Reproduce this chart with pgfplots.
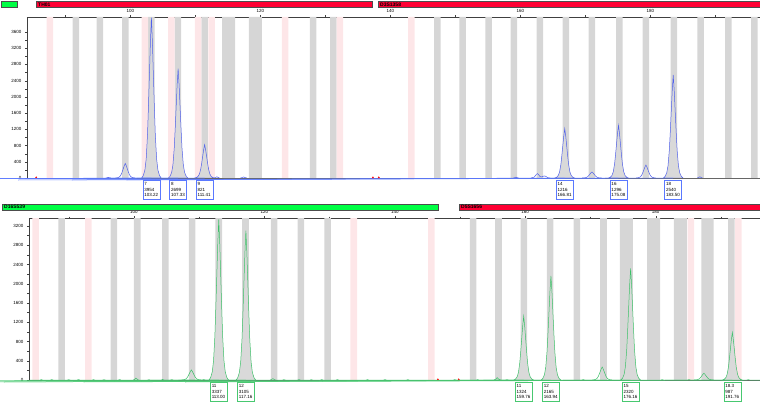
\documentclass[border=0pt]{standalone}
\usepackage{fontspec}
\setmainfont{Liberation Sans}
\usepackage{pgfplots}
\pgfplotsset{compat=1.18}
\definecolor{binGray}{HTML}{D6D6D6}
\definecolor{binPink}{HTML}{FDE6E8}
\definecolor{trBlue}{HTML}{5060EA}
\definecolor{trGreen}{HTML}{3CC068}
\definecolor{boxBlue}{HTML}{5A78FF}
\definecolor{boxGreen}{HTML}{48C870}
\definecolor{barRed}{HTML}{FF0033}
\definecolor{barGreen}{HTML}{00FF44}
\pgfplotsset{
  ep/.style={
    scale only axis, clip mode=individual,
    axis x line*=top, axis y line*=left,
    axis line style={black!75, line width=0.4pt},
    ymin=0,
    xtick={100,120,...,180}, minor xtick={90,110,...,190},
    tick style={black!75, line width=0.3pt},
    major tick length=2pt, minor tick length=1.5pt,
    tick align=outside,
    ticklabel style={font=\fontsize{4.5}{5}\selectfont},
    xticklabel style={yshift=-1pt},
    /pgf/number format/assume math mode=true,
    /pgf/number format/1000 sep={},
    minor y tick num=1,
  },
  gbin/.style={ybar, bar width=1, bar shift=0pt, fill=binGray, draw=none},
  pbin/.style={ybar, bar width=1, bar shift=0pt, fill=binPink, draw=none},
}
\tikzset{
  lab/.style={draw=#1, fill=white, line width=0.6pt, inner xsep=1.5pt, inner ysep=2.2pt, align=left,
    anchor=north, yshift=-2pt, text width=14pt, font=\fontsize{4.5}{5.6}\selectfont},
}
\begin{document}
\begin{tikzpicture}[x=1pt,y=1pt]
\path[use as bounding box] (0,0) rectangle (760,405);
% ---------------- top panel ----------------
\begin{axis}[ep, at={(27pt,227pt)}, anchor=south west, width=733pt, height=161pt,
  xmin=84.08, xmax=196.85, ymax=3970, ytick={0,400,...,3600}]
\addplot[gbin] coordinates {(91.6,3970) (95.3,3970) (99.2,3970) (103.2,3970) (107.3,3970) (111.4,3970) (114.6,3970) (115.6,3970) (118.7,3970) (119.7,3970) (128.1,3970) (131.2,3970) (147.2,3970) (151.1,3970) (155.1,3970) (159.0,3970) (163.0,3970) (167.0,3970) (171.0,3970) (175.2,3970) (179.3,3970) (183.6,3970) (187.7,3970) (192.0,3970) (196.0,3970)};
\addplot[pbin] coordinates {(87.6,3970) (102.2,3970) (106.3,3970) (110.4,3970) (112.5,3970) (123.8,3970) (132.2,3970) (143.2,3970)};
% labelled peaks (filled)
\addplot[trBlue, line width=0.5pt, fill=black!15] coordinates {(101.72,0) (101.97,59) (102.22,198) (102.42,474) (102.62,1068) (102.77,1779) (102.92,2570) (103.07,3361) (103.22,3954) (103.37,3361) (103.52,2570) (103.67,1779) (103.82,1068) (104.02,474) (104.22,198) (104.47,59) (104.72,0)} \closedcycle;
\addplot[trBlue, line width=0.5pt, fill=black!15] coordinates {(105.83,0) (106.08,40) (106.33,135) (106.53,324) (106.73,729) (106.88,1215) (107.03,1754) (107.18,2294) (107.33,2699) (107.48,2294) (107.63,1754) (107.78,1215) (107.93,729) (108.13,324) (108.33,135) (108.58,40) (108.83,0)} \closedcycle;
\addplot[trBlue, line width=0.5pt, fill=black!15] coordinates {(109.91,0) (110.16,12) (110.41,41) (110.61,99) (110.81,222) (110.96,369) (111.11,534) (111.26,698) (111.41,821) (111.56,698) (111.71,534) (111.86,369) (112.01,222) (112.21,99) (112.41,41) (112.66,12) (112.91,0)} \closedcycle;
\addplot[trBlue, line width=0.5pt, fill=black!15] coordinates {(165.31,0) (165.56,18) (165.81,61) (166.01,146) (166.21,328) (166.36,547) (166.51,790) (166.66,1034) (166.81,1216) (166.96,1034) (167.11,790) (167.26,547) (167.41,328) (167.61,146) (167.81,61) (168.06,18) (168.31,0)} \closedcycle;
\addplot[trBlue, line width=0.5pt, fill=black!15] coordinates {(173.58,0) (173.83,19) (174.08,65) (174.28,156) (174.48,350) (174.63,583) (174.78,842) (174.93,1102) (175.08,1296) (175.23,1102) (175.38,842) (175.53,583) (175.68,350) (175.88,156) (176.08,65) (176.33,19) (176.58,0)} \closedcycle;
\addplot[trBlue, line width=0.5pt, fill=black!15] coordinates {(182.0,0) (182.25,38) (182.5,127) (182.7,305) (182.9,686) (183.05,1143) (183.2,1651) (183.35,2159) (183.5,2540) (183.65,2159) (183.8,1651) (183.95,1143) (184.1,686) (184.3,305) (184.5,127) (184.75,38) (185.0,0)} \closedcycle;
% unlabelled peaks
\addplot[trBlue, line width=0.5pt] coordinates {(97.7,0) (97.95,5) (98.2,18) (98.4,43) (98.6,97) (98.75,162) (98.9,234) (99.05,306) (99.2,360) (99.35,306) (99.5,234) (99.65,162) (99.8,97) (100.0,43) (100.2,18) (100.45,5) (100.7,0)};
\addplot[trBlue, line width=0.5pt] coordinates {(96.2,0) (96.4,6) (96.6,15) (96.8,6) (97.0,0)};
\addplot[trBlue, line width=0.5pt] coordinates {(112.9,0) (113.1,12) (113.3,30) (113.5,12) (113.7,0)};
\addplot[trBlue, line width=0.5pt] coordinates {(116.9,0) (117.2,12) (117.4,25) (117.6,12) (117.9,0)};
\addplot[trBlue, line width=0.5pt] coordinates {(158.9,0) (159.1,8) (159.3,20) (159.5,8) (159.7,0)};
\addplot[trBlue, line width=0.5pt] coordinates {(161.6,0) (162.1,20) (162.4,80) (162.6,110) (162.8,80) (163.0,35) (163.3,28) (163.55,46) (163.75,50) (163.95,35) (164.2,8) (164.6,0)};
\addplot[trBlue, line width=0.5pt] coordinates {(169.5,0) (169.75,2) (170.0,8) (170.2,18) (170.4,41) (170.55,68) (170.7,98) (170.85,128) (171.0,150) (171.15,128) (171.3,98) (171.45,68) (171.6,41) (171.8,18) (172.0,8) (172.25,2) (172.5,0)};
\addplot[trBlue, line width=0.5pt] coordinates {(177.8,0) (178.05,5) (178.3,16) (178.5,38) (178.7,86) (178.85,144) (179.0,208) (179.15,272) (179.3,320) (179.45,272) (179.6,208) (179.75,144) (179.9,86) (180.1,38) (180.3,16) (180.55,5) (180.8,0)};
\addplot[trBlue, line width=0.5pt] coordinates {(187.2,0) (187.4,12) (187.6,30) (187.8,12) (188.0,0)};
\draw[black!60, line width=0.4pt] (rel axis cs:0,0) -- (rel axis cs:1,0);
\addplot[red, only marks, mark=triangle*, mark size=1.3pt] coordinates {(85.5,0) (137.3,0) (138.2,0)};
% labels
\draw[boxBlue, line width=0.5pt] (axis cs:103.22,0) -- ++(0,-2pt);
\node[lab=boxBlue] at (axis cs:103.22,0) {7\\3954\\103.22};
\draw[boxBlue, line width=0.5pt] (axis cs:107.33,0) -- ++(0,-2pt);
\node[lab=boxBlue] at (axis cs:107.33,0) {8\\2699\\107.33};
\draw[boxBlue, line width=0.5pt] (axis cs:111.41,0) -- ++(0,-2pt);
\node[lab=boxBlue] at (axis cs:111.41,0) {9\\821\\111.41};
\draw[boxBlue, line width=0.5pt] (axis cs:166.81,0) -- ++(0,-2pt);
\node[lab=boxBlue] at (axis cs:166.81,0) {14\\1216\\166.81};
\draw[boxBlue, line width=0.5pt] (axis cs:175.08,0) -- ++(0,-2pt);
\node[lab=boxBlue] at (axis cs:175.08,0) {16\\1296\\175.08};
\draw[boxBlue, line width=0.5pt] (axis cs:183.50,0) -- ++(0,-2pt);
\node[lab=boxBlue] at (axis cs:183.50,0) {18\\2540\\183.50};
\end{axis}
% ---------------- bottom panel ----------------
\begin{axis}[ep, at={(29pt,25pt)}, anchor=south west, width=731pt, height=162pt,
  xmin=83.9, xmax=196.0, ymax=3366, ytick={0,400,...,3200}]
\addplot[gbin] coordinates {(88.9,3366) (96.9,3366) (100.5,3366) (104.8,3366) (108.9,3366) (113.0,3366) (117.1,3366) (121.5,3366) (125.6,3366) (129.7,3366) (152.0,3366) (155.9,3366) (159.8,3366) (163.8,3366) (167.9,3366) (172.0,3366) (175.0,3366) (176.0,3366) (179.2,3366) (180.2,3366) (183.3,3366) (184.3,3366) (187.5,3366) (188.4,3366) (191.6,3366)};
\addplot[pbin] coordinates {(84.9,3366) (93.0,3366) (133.7,3366) (145.6,3366) (185.4,3366) (192.7,3366)};
\draw[black!60, line width=0.4pt] (rel axis cs:0,0) -- (rel axis cs:1,0);
\addplot[trGreen, line width=0.5pt] coordinates {(84,0) (85.6,0) (85.8,8) (86.0,0) (87.2,0) (87.4,10) (87.6,0) (89.8,0) (90.0,7) (90.2,0) (91.3,0) (91.5,9) (91.7,0) (93.6,0) (93.8,7) (94.0,0) (95.2,0) (95.4,8) (95.6,0) (97.6,0) (97.8,10) (98.0,0) (102.1,0) (102.3,7) (102.5,0) (104.2,0) (104.4,12) (104.6,0) (105.6,0) (105.8,8) (106.0,0) (110.5,0) (110.7,9) (110.9,0) (122.8,0) (123.0,8) (123.2,0) (125.1,0) (125.3,10) (125.5,0) (127.0,0) (127.2,7) (127.4,0) (128.6,0) (128.8,9) (129.0,0) (131.0,0) (131.2,8) (131.4,0) (135.6,0) (135.8,7) (136.0,0) (138.3,0) (138.5,9) (138.7,0) (141.8,0) (142.0,8) (142.2,0) (149.0,0) (149.2,9) (149.4,0) (152.5,0) (152.7,8) (152.9,0) (157.0,0) (157.2,7) (157.4,0) (168.7,0) (168.9,9) (169.1,0) (180.8,0) (181.0,8) (181.2,0) (184.9,0) (185.1,10) (185.3,0) (194.0,0) (194.2,8) (194.4,0) (196,0)};
\addplot[trGreen, line width=0.5pt, fill=black!15] coordinates {(111.5,0) (111.75,50) (112.0,167) (112.2,400) (112.4,901) (112.55,1502) (112.7,2169) (112.85,2836) (113.0,3337) (113.15,2836) (113.3,2169) (113.45,1502) (113.6,901) (113.8,400) (114.0,167) (114.25,50) (114.5,0)} \closedcycle;
\addplot[trGreen, line width=0.5pt, fill=black!15] coordinates {(115.66,0) (115.91,47) (116.16,155) (116.36,373) (116.56,838) (116.71,1397) (116.86,2018) (117.01,2639) (117.16,3105) (117.31,2639) (117.46,2018) (117.61,1397) (117.76,838) (117.96,373) (118.16,155) (118.41,47) (118.66,0)} \closedcycle;
\addplot[trGreen, line width=0.5pt, fill=black!15] coordinates {(158.26,0) (158.51,20) (158.76,66) (158.96,159) (159.16,357) (159.31,596) (159.46,861) (159.61,1125) (159.76,1324) (159.91,1125) (160.06,861) (160.21,596) (160.36,357) (160.56,159) (160.76,66) (161.01,20) (161.26,0)} \closedcycle;
\addplot[trGreen, line width=0.5pt, fill=black!15] coordinates {(162.44,0) (162.69,32) (162.94,108) (163.14,260) (163.34,585) (163.49,974) (163.64,1407) (163.79,1840) (163.94,2165) (164.09,1840) (164.24,1407) (164.39,974) (164.54,585) (164.74,260) (164.94,108) (165.19,32) (165.44,0)} \closedcycle;
\addplot[trGreen, line width=0.5pt, fill=black!15] coordinates {(174.66,0) (174.91,35) (175.16,116) (175.36,278) (175.56,626) (175.71,1044) (175.86,1508) (176.01,1972) (176.16,2320) (176.31,1972) (176.46,1508) (176.61,1044) (176.76,626) (176.96,278) (177.16,116) (177.41,35) (177.66,0)} \closedcycle;
\addplot[trGreen, line width=0.5pt, fill=black!15] coordinates {(190.26,0) (190.51,15) (190.76,49) (190.96,118) (191.16,266) (191.31,444) (191.46,642) (191.61,839) (191.76,987) (191.91,839) (192.06,642) (192.21,444) (192.36,266) (192.56,118) (192.76,49) (193.01,15) (193.26,0)} \closedcycle;
\addplot[trGreen, line width=0.5pt] coordinates {(99.9,0) (100.1,15) (100.3,40) (100.5,15) (100.7,0)};
\addplot[trGreen, line width=0.5pt] coordinates {(107.3,0) (107.55,3) (107.8,11) (108.0,25) (108.2,57) (108.35,95) (108.5,137) (108.65,179) (108.8,210) (108.95,179) (109.1,137) (109.25,95) (109.4,57) (109.6,25) (109.8,11) (110.05,3) (110.3,0)};
\addplot[trGreen, line width=0.5pt] coordinates {(120.9,0) (121.1,12) (121.3,30) (121.5,12) (121.7,0)};
\addplot[trGreen, line width=0.5pt] coordinates {(155.2,0) (155.5,20) (155.7,50) (155.9,20) (156.2,0)};
\addplot[trGreen, line width=0.5pt] coordinates {(170.3,0) (170.55,4) (170.8,14) (171.0,32) (171.2,73) (171.35,122) (171.5,176) (171.65,230) (171.8,270) (171.95,230) (172.1,176) (172.25,122) (172.4,73) (172.6,32) (172.8,14) (173.05,4) (173.3,0)};
\addplot[trGreen, line width=0.5pt] coordinates {(185.9,0) (186.15,2) (186.4,7) (186.6,17) (186.8,38) (186.95,63) (187.1,91) (187.25,119) (187.4,140) (187.55,119) (187.7,91) (187.85,63) (188.0,38) (188.2,17) (188.4,7) (188.65,2) (188.9,0)};
\addplot[red, only marks, mark=triangle*, mark size=1.3pt] coordinates {(146.6,0) (149.8,0)};
\draw[boxGreen, line width=0.5pt] (axis cs:113.00,0) -- ++(0,-2pt);
\node[lab=boxGreen] at (axis cs:113.00,0) {11\\3337\\113.00};
\draw[boxGreen, line width=0.5pt] (axis cs:117.16,0) -- ++(0,-2pt);
\node[lab=boxGreen] at (axis cs:117.16,0) {12\\3105\\117.16};
\draw[boxGreen, line width=0.5pt] (axis cs:159.76,0) -- ++(0,-2pt);
\node[lab=boxGreen] at (axis cs:159.76,0) {11\\1324\\159.76};
\draw[boxGreen, line width=0.5pt] (axis cs:163.94,0) -- ++(0,-2pt);
\node[lab=boxGreen] at (axis cs:163.94,0) {12\\2165\\163.94};
\draw[boxGreen, line width=0.5pt] (axis cs:176.16,0) -- ++(0,-2pt);
\node[lab=boxGreen] at (axis cs:176.16,0) {15\\2320\\176.16};
\draw[boxGreen, line width=0.5pt] (axis cs:191.76,0) -- ++(0,-2pt);
\node[lab=boxGreen] at (axis cs:191.76,0) {18.3\\987\\191.76};
\end{axis}
% ---------------- locus bars ----------------
\tikzset{lbar/.style={draw=black!70, line width=0.4pt}, ltxt/.style={anchor=west, inner sep=0pt, font=\bfseries\fontsize{5}{5}\selectfont}}
\draw[lbar, fill=barGreen] (1,397.5) rectangle (17,403.5);
\draw[lbar, fill=barRed] (36,397.5) rectangle (372,403.5);
\node[ltxt] at (38,400.5) {TH01};
\draw[lbar, fill=barRed] (378,397.5) rectangle (765,403.5);
\node[ltxt] at (380,400.5) {D3S1358};
\draw[lbar, fill=barGreen] (2,195) rectangle (438,201);
\node[ltxt] at (4,198) {D16S539};
\draw[lbar, fill=barRed] (459,195) rectangle (765,201);
\node[ltxt] at (461,198) {D5S1656};
\end{tikzpicture}
\end{document}
